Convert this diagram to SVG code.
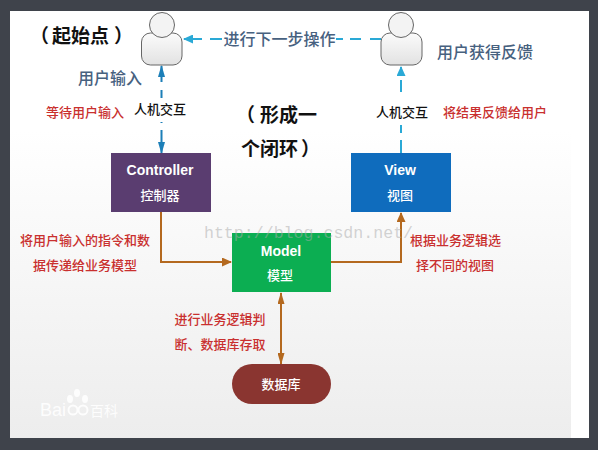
<svg xmlns="http://www.w3.org/2000/svg" width="598" height="450" viewBox="0 0 598 450">
<style>
text{font-family:"Liberation Sans","Noto Sans CJK SC",sans-serif;text-anchor:middle}
.red{fill:#c9302f;font-size:13px;font-weight:500}
.blue{fill:#47617f;font-size:16px;font-weight:500}
.blk{fill:#111;font-size:13px;font-weight:500}
.note{fill:#111;font-size:19px;font-weight:bold;text-anchor:start}
.w1{fill:#fff;font-size:14px;font-weight:bold}
.w2{fill:#fff;font-size:13px;font-weight:500}
.body{fill:url(#u);stroke:#666;stroke-width:1}
.head{fill:#f3f3f3;stroke:#666;stroke-width:1}
.d1{fill:none;stroke:#2aa9d6;stroke-width:2}
.d2{fill:none;stroke:#1c7fb8;stroke-width:2}
.o{fill:none;stroke:#b4691f;stroke-width:2}
</style>
<defs>
<linearGradient id="p" x1="0" y1="0" x2="0" y2="1"><stop offset="0" stop-color="#ffffff"/><stop offset="1" stop-color="#ededed"/></linearGradient>
<linearGradient id="u" x1="0" y1="0" x2="0" y2="1"><stop offset="0" stop-color="#fbfbfb"/><stop offset="1" stop-color="#e2e2e2"/></linearGradient>
<marker id="ac" markerWidth="10" markerHeight="9" refX="9" refY="4.5" orient="auto-start-reverse" markerUnits="userSpaceOnUse"><path d="M0 0L10 4.500L0 9Z" fill="#2aa9d6"/></marker>
<marker id="ab" markerWidth="12" markerHeight="7" refX="11" refY="3.5" orient="auto-start-reverse" markerUnits="userSpaceOnUse"><path d="M0 0L12 3.500L0 7Z" fill="#1c7fb8"/></marker>
<marker id="ao" markerWidth="10" markerHeight="9" refX="9" refY="4.5" orient="auto-start-reverse" markerUnits="userSpaceOnUse"><path d="M0 0L10 4.500L0 9Z" fill="#b4691f"/></marker>
<marker id="an" markerWidth="12" markerHeight="7" refX="11" refY="3.5" orient="auto-start-reverse" markerUnits="userSpaceOnUse"><path d="M0 0L12 3.500L0 7Z" fill="#b4691f"/></marker>
</defs>
<rect width="598" height="450" fill="#3f434b"/>
<rect x="10" y="11" width="579" height="427" fill="#fff"/>
<rect x="10" y="130" width="561" height="308" fill="url(#p)"/>
<g id="connectors">
<path class="d1" d="M381 39H184" stroke-dasharray="11 9 11 7 7 114 12 8 20" marker-end="url(#ac)"/>
<path class="d1" d="M401 153V67" stroke-dasharray="13 7 8 33 12 5 13" marker-end="url(#ac)"/>
<path class="d2" d="M161.500 66V153" stroke-dasharray="16 8 8 24 1 7 23" marker-start="url(#ab)" marker-end="url(#ab)"/>
<path class="o" d="M161 212V262H231" marker-end="url(#ao)"/>
<path class="o" d="M331 262H401V213" marker-end="url(#ao)"/>
<path class="o" d="M281 293V364" marker-start="url(#an)" marker-end="url(#an)"/>
</g>
<g id="user-start">
<rect class="body" x="141.500" y="33" width="40.500" height="32" rx="9"/>
<circle class="head" cx="162" cy="25" r="12.500"/>
</g>
<g id="user-feedback">
<rect class="body" x="381" y="33" width="41" height="32" rx="9"/>
<circle class="head" cx="401" cy="25" r="12.500"/>
</g>
<g id="controller">
<rect x="111" y="153" width="100" height="59" fill="#5a3d70"/>
<text class="w1" x="160" y="175">Controller</text>
<text class="w2" x="160" y="200">控制器</text>
</g>
<g id="view">
<rect x="351" y="153" width="100" height="59" fill="#0f6cbd"/>
<text class="w1" x="400" y="175">View</text>
<text class="w2" x="400" y="200">视图</text>
</g>
<g id="model">
<rect x="232" y="233" width="99" height="59" fill="#0cae52"/>
<text class="w1" x="281" y="256">Model</text>
<text class="w2" x="280" y="280">模型</text>
</g>
<g id="database">
<rect x="232" y="364" width="99" height="40" rx="20" fill="#8a3530"/>
<text class="w2" x="281" y="389">数据库</text>
</g>
<text x="308.500" y="238" style="font-family:'Liberation Mono',monospace;font-size:16.600px;fill:#aaa;fill-opacity:0.5">http://blog.csdn.net/</text>
<text class="blue" x="279.500" y="45">进行下一步操作</text>
<text class="blue" x="110" y="84">用户输入</text>
<text class="blue" x="485" y="58">用户获得反馈</text>
<text class="blk" x="160" y="114">人机交互</text>
<text class="blk" x="402" y="117">人机交互</text>
<text class="note" x="30" y="43">（<tspan dx="3">起始点</tspan><tspan dx="5">）</tspan></text>
<text class="note" x="236" y="122">（<tspan dx="5">形成一</tspan></text>
<text class="note" x="241" y="156">个闭环<tspan dx="3">）</tspan></text>
<text class="red" x="85" y="117">等待用户输入</text>
<text class="red" x="495" y="117">将结果反馈给用户</text>
<text class="red" x="85" y="245">将用户输入的指令和数</text>
<text class="red" x="85" y="270">据传递给业务模型</text>
<text class="red" x="455.500" y="245">根据业务逻辑选</text>
<text class="red" x="455" y="270">择不同的视图</text>
<text class="red" x="220" y="324">进行业务逻辑判</text>
<text class="red" x="220" y="349">断、数据库存取</text>
<g id="baidu-mark" fill="#fff" opacity="0.9">
<text x="53" y="416" style="font-size:18px;fill:#fff">Bai</text>
<text x="104" y="416" style="font-size:14px;fill:#fff">百科</text>
<ellipse cx="77" cy="393" rx="3" ry="4"/><ellipse cx="70" cy="399" rx="3" ry="4"/><ellipse cx="85" cy="399" rx="3" ry="4"/>
<circle cx="73" cy="410" r="4.500" fill="none" stroke="#fff" stroke-width="2"/><circle cx="83" cy="410" r="4.500" fill="none" stroke="#fff" stroke-width="2"/>
</g>
</svg>
